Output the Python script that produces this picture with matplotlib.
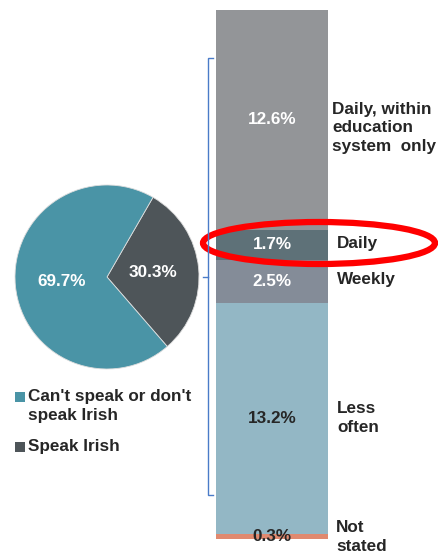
import matplotlib
matplotlib.use("Agg")
import matplotlib.pyplot as plt
from matplotlib.patches import Ellipse, Rectangle
import numpy as np

plt.rcParams['font.family'] = ['Liberation Sans', 'DejaVu Sans']

# ---- data ----
pie_labels = ["Speak Irish", "Can't speak or don't\nspeak Irish"]
pie_values = [30.3, 69.7]
pie_colors = ["#4e5559", "#4a94a6"]

bar_categories = ["Not\nstated", "Less\noften", "Weekly", "Daily",
                  "Daily, within\neducation\nsystem  only"]
bar_values = [0.3, 13.2, 2.5, 1.7, 12.6]
bar_colors = ["#e0896f", "#93b7c5", "#848c98", "#5e7178", "#939598"]
bar_value_colors = ["#262626", "#262626", "white", "white", "white"]

W, H = 438, 556
fig = plt.figure(figsize=(W / 100, H / 100), dpi=100)

def px_axes(x0, y0, x1, y1):
    # pixel box (top-left origin) -> figure fraction
    return [x0 / W, 1 - y1 / H, (x1 - x0) / W, (y1 - y0) / H]

txt = "#262626"
FS = 12.3
LS = 1.33

# ---- stacked bar ----
axb = fig.add_axes(px_axes(216, 10, 328, 539))
total = sum(bar_values)
bottoms = np.concatenate([[0], np.cumsum(bar_values)[:-1]])
axb.bar([0] * len(bar_values), bar_values, bottom=bottoms, width=1.0,
        color=bar_colors, linewidth=0)
axb.set_xlim(-0.5, 0.5)
axb.set_ylim(0, total)
axb.axis("off")

label_dx = [8, 9, 9, 9, 4]      # px offsets for category labels
label_dy = [-1, 1, 2, 1, -8]
for v, b, c, cat, dx, dy in zip(bar_values, bottoms, bar_value_colors,
                                bar_categories, label_dx, label_dy):
    yc = b + v / 2
    axb.text(0, yc, f"{v}%", ha="center", va="center", color=c,
             fontsize=FS, fontweight="bold")
    axb.annotate(cat, xy=(0.5, yc), xycoords="data",
                 xytext=(dx * 0.72, dy * 0.72), textcoords="offset points",
                 ha="left", va="center", color=txt, fontsize=FS,
                 fontweight="bold", annotation_clip=False,
                 linespacing=LS)

# ---- overlay axes in pixel coordinates ----
ax = fig.add_axes([0, 0, 1, 1], zorder=5)
ax.patch.set_visible(False)
wedges, texts, autotexts = ax.pie(
    pie_values, colors=pie_colors, startangle=60, counterclock=False,
    center=(107, H - 277), radius=92, autopct="%.1f%%", pctdistance=0.5,
    frame=True, wedgeprops=dict(linewidth=0.6, edgecolor="#dddddd"),
    textprops=dict(color="white", fontsize=FS, fontweight="bold"))
ax.set_xlim(0, W)
ax.set_ylim(0, H)
ax.set_aspect("auto")
ax.axis("off")

# legend (manual)
leg_y = [H - 447, H - 397]
for col, lab, y in zip(pie_colors, pie_labels, leg_y):
    ax.add_patch(Rectangle((15, y - 5), 10, 10, color=col, linewidth=0))
    ax.text(28, y + 8, lab, ha="left", va="top", fontsize=FS,
            fontweight="bold", color=txt, linespacing=LS)

# bracket
bc = "#4a7bc8"
ax.plot([213, 208, 208, 213], [H - 58, H - 58, H - 495, H - 495],
        color=bc, linewidth=1.0, solid_joinstyle="miter")
ax.plot([203, 208], [H - 277, H - 277], color=bc, linewidth=1.0)

# red ellipse
ax.add_patch(Ellipse((319, H - 243), 232, 42, fill=False,
                     edgecolor="#ff0000", linewidth=4.5))

fig.savefig("out.png", dpi=100)
